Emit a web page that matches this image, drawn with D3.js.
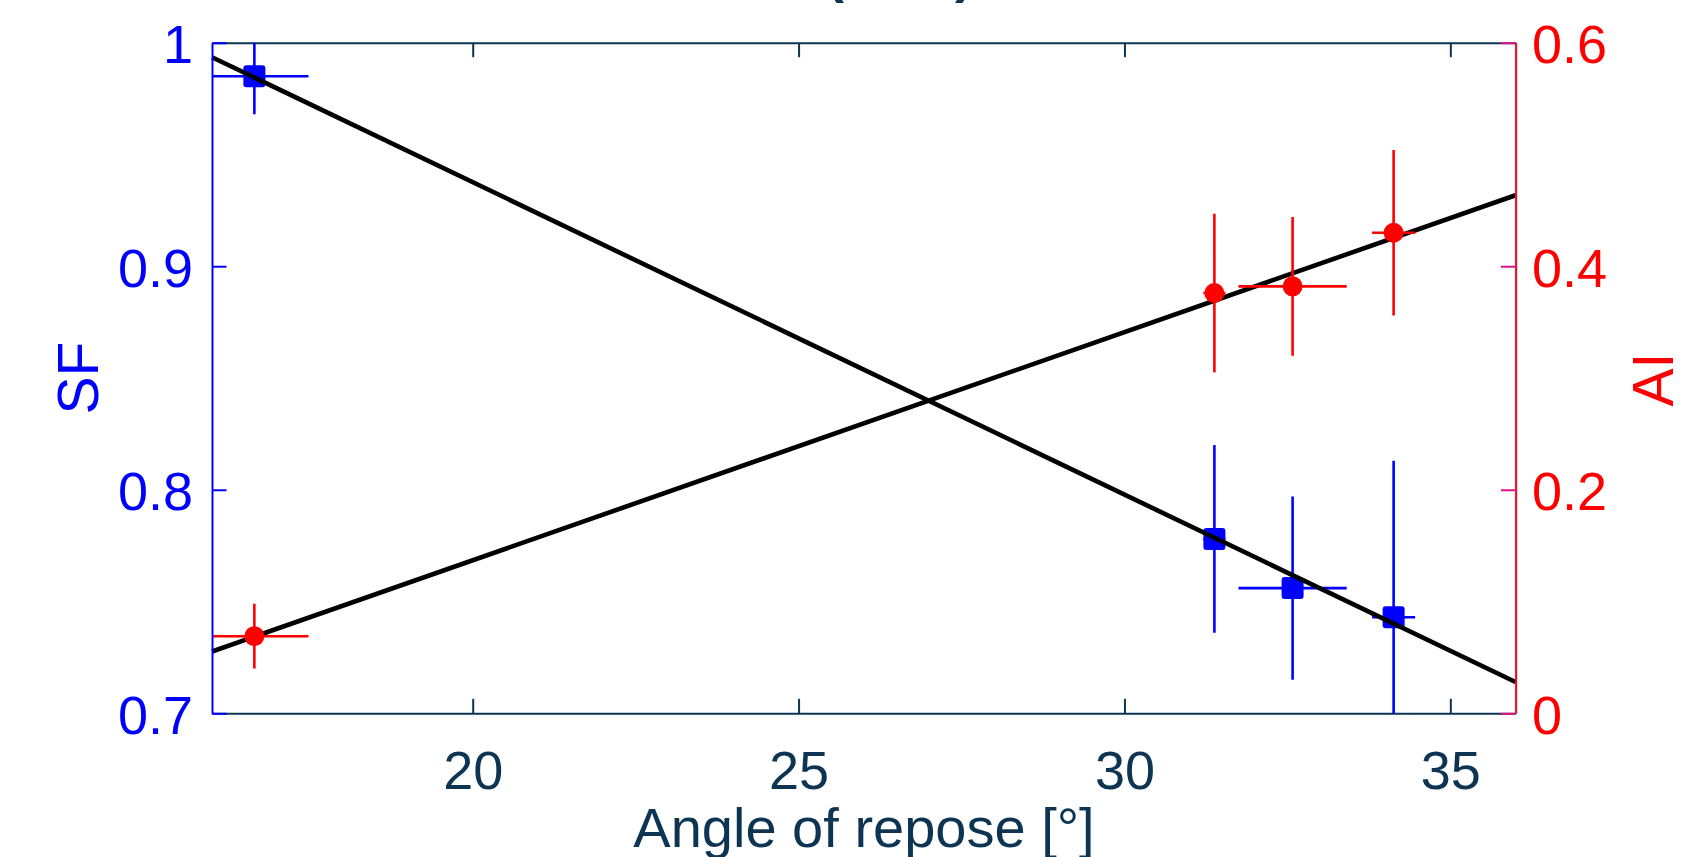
<!DOCTYPE html>
<html><head><meta charset="utf-8">
<script src="https://cdn.jsdelivr.net/npm/d3@7"></script>
<style>body{margin:0;background:#fff;} svg{display:block;}</style>
</head><body><svg id="c" width="1706" height="857"></svg>
<script>
// ---- data ----
const angle    = [16.65, 31.38, 32.58, 34.13];
const angleErr = [0.83, 0.17, 0.83, 0.33];
const sf       = [0.985, 0.778, 0.756, 0.743];
const sfErr    = [0.017, 0.042, 0.041, 0.070];
const ai       = [0.069, 0.376, 0.382, 0.430];
const aiErr    = [0.029, 0.071, 0.062, 0.074];
const fitX     = [16, 36];
const fitSF    = [0.9935, 0.714];
const fitAI    = [0.0553, 0.4635];
const xTicks   = [20, 25, 30, 35];
const xTickLabels = ["20", "25", "30", "35"];
const sfTicks  = [0.7, 0.8, 0.9, 1];
const sfTickLabels = ["0.7", "0.8", "0.9", "1"];
const aiTicks  = [0, 0.2, 0.4, 0.6];
const aiTickLabels = ["0", "0.2", "0.4", "0.6"];
const xLabel = "Angle of repose [°]";
const sfLabel = "SF";
const aiLabel = "AI";
const titleText = "(PSD)";

// ---- layout ----
const NAVY = "#0d3553", BLUE = "#0000ff", RED = "#ff0000";
const FONT = "'Liberation Sans', Arial, Helvetica, sans-serif";
const m = {l: 212, r: 1515.5, t: 42.7, b: 713.3};
const svg = d3.select("#c");
const x  = d3.scaleLinear().domain([16, 36]).range([m.l, m.r]);
const yL = d3.scaleLinear().domain([0.7, 1]).range([m.b, m.t]);
const yR = d3.scaleLinear().domain([0, 0.6]).range([m.b, m.t]);

svg.append("defs").append("clipPath").attr("id", "plotclip")
  .append("rect").attr("x", m.l).attr("y", m.t).attr("width", m.r - m.l).attr("height", m.b - m.t);

// title (cut off at top, as in the reference)
svg.append("text").attr("x", 826).attr("y", -8).text(titleText)
  .attr("font-family", FONT).attr("font-size", 54).attr("font-weight", "bold").attr("fill", NAVY);

function styleAxis(g, color, fs) {
  g.select(".domain").attr("stroke", color).attr("stroke-width", 2);
  g.selectAll(".tick line").attr("stroke", color).attr("stroke-width", 2);
  g.selectAll(".tick text").attr("fill", color).attr("font-size", fs).attr("font-family", FONT);
}

// bottom & top x axes
const gB = svg.append("g").attr("transform", `translate(0,${m.b})`)
  .call(d3.axisBottom(x).tickValues(xTicks).tickFormat((d, i) => xTickLabels[i])
        .tickSizeInner(-14.5).tickSizeOuter(0).tickPadding(37.4));
styleAxis(gB, NAVY, 54);
const gT = svg.append("g").attr("transform", `translate(0,${m.t})`)
  .call(d3.axisTop(x).tickValues(xTicks).tickFormat("").tickSizeInner(-14.5).tickSizeOuter(0));
styleAxis(gT, NAVY, 54);

// plot content
const plot = svg.append("g");
const ebL = plot.append("g").attr("clip-path", "url(#plotclip)");
angle.forEach((a, i) => {
  ebL.append("line").attr("x1", x(a)).attr("x2", x(a))
    .attr("y1", yL(sf[i] - sfErr[i])).attr("y2", yL(sf[i] + sfErr[i]))
    .attr("stroke", BLUE).attr("stroke-width", 2.6);
  ebL.append("line").attr("x1", x(a - angleErr[i])).attr("x2", x(a + angleErr[i]))
    .attr("y1", yL(sf[i])).attr("y2", yL(sf[i]))
    .attr("stroke", BLUE).attr("stroke-width", 2.6);
});
plot.selectAll("rect.sf").data(angle).enter().append("rect").attr("class", "sf")
  .attr("x", d => x(d) - 11).attr("y", (d, i) => yL(sf[i]) - 11)
  .attr("width", 22).attr("height", 22).attr("rx", 3).attr("fill", BLUE);

const line = d3.line();
plot.append("path").attr("d", line(fitX.map((d, i) => [x(d), yL(fitSF[i])])))
  .attr("stroke", "#000").attr("stroke-width", 4.6).attr("fill", "none");
plot.append("path").attr("d", line(fitX.map((d, i) => [x(d), yR(fitAI[i])])))
  .attr("stroke", "#000").attr("stroke-width", 4.6).attr("fill", "none");

const ebR = plot.append("g").attr("clip-path", "url(#plotclip)");
angle.forEach((a, i) => {
  ebR.append("line").attr("x1", x(a)).attr("x2", x(a))
    .attr("y1", yR(ai[i] - aiErr[i])).attr("y2", yR(ai[i] + aiErr[i]))
    .attr("stroke", RED).attr("stroke-width", 2.6);
  ebR.append("line").attr("x1", x(a - angleErr[i])).attr("x2", x(a + angleErr[i]))
    .attr("y1", yR(ai[i])).attr("y2", yR(ai[i]))
    .attr("stroke", RED).attr("stroke-width", 2.6);
});
plot.selectAll("circle.ai").data(angle).enter().append("circle").attr("class", "ai")
  .attr("cx", d => x(d)).attr("cy", (d, i) => yR(ai[i])).attr("r", 10).attr("fill", RED);

// left & right y axes
const gL = svg.append("g").attr("transform", `translate(${m.l},0)`)
  .call(d3.axisLeft(yL).tickValues(sfTicks).tickFormat((d, i) => sfTickLabels[i])
        .tickSizeInner(-14.5).tickSizeOuter(0).tickPadding(19));
styleAxis(gL, BLUE, 54);
gL.selectAll(".tick text").attr("dy", "0.37em");

svg.append("line").attr("x1", m.r + 1.2).attr("x2", m.r + 1.2).attr("y1", m.t).attr("y2", m.b)
  .attr("stroke", "#6a3cff").attr("stroke-width", 1);
const gR = svg.append("g").attr("transform", `translate(${m.r},0)`)
  .call(d3.axisRight(yR).tickValues(aiTicks).tickFormat((d, i) => aiTickLabels[i])
        .tickSizeInner(-14.5).tickSizeOuter(0).tickPadding(16.5));
styleAxis(gR, RED, 54);
gR.select(".domain").attr("stroke-width", 1.8);
gR.selectAll(".tick line").attr("stroke", "#e0108a");
gR.selectAll(".tick text").attr("dy", "0.37em");

// axis labels
svg.append("text").attr("transform", "translate(98,378) rotate(-90)")
  .attr("text-anchor", "middle").attr("font-family", FONT).attr("font-size", 57)
  .attr("fill", BLUE).text(sfLabel);
svg.append("text").attr("transform", "translate(1672.7,379.5) rotate(-90)")
  .attr("text-anchor", "middle").attr("font-family", FONT).attr("font-size", 57)
  .attr("fill", RED).text(aiLabel);
svg.append("text").attr("x", 864).attr("y", 847)
  .attr("text-anchor", "middle").attr("font-family", FONT).attr("font-size", 56)
  .attr("fill", NAVY).text(xLabel);
</script></body></html>
